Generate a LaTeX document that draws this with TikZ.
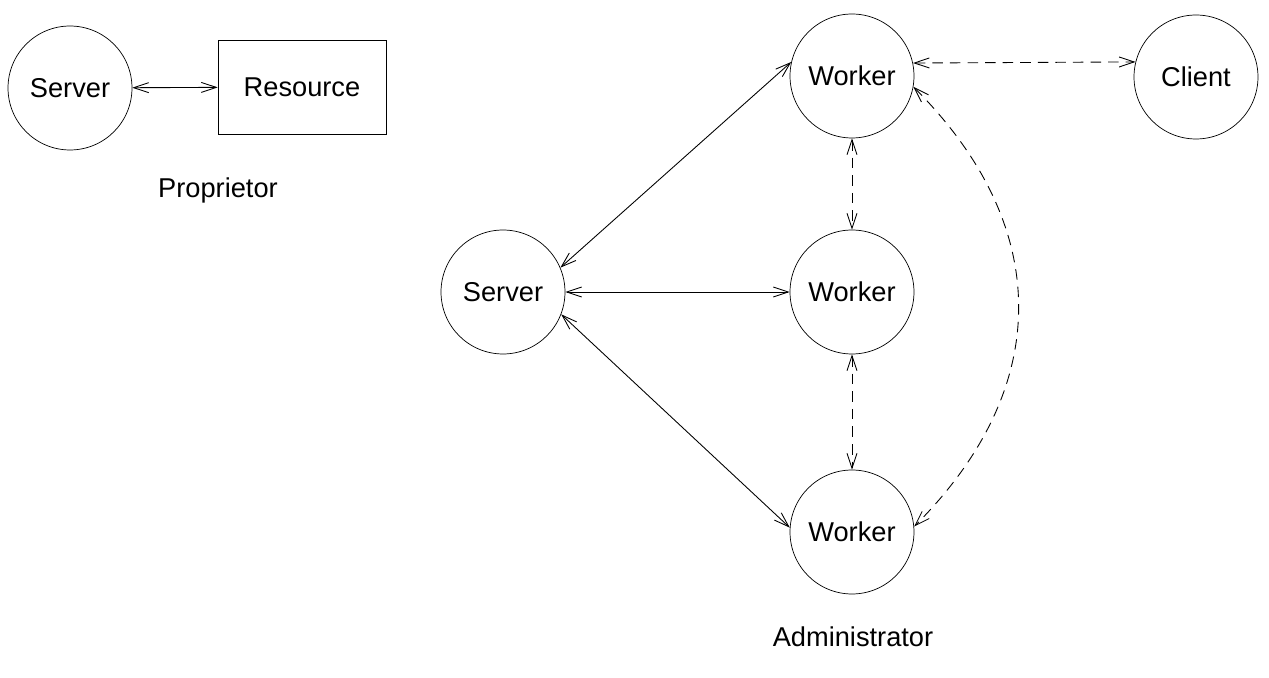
\documentclass[tikz,border=0pt]{standalone}
\usepackage{fontspec}
\setmainfont{Liberation Sans}
\usetikzlibrary{arrows.meta}
\begin{document}
\begin{tikzpicture}[x=0.02cm,y=-0.02cm,
		agent/.style={draw,circle,minimum size=2.48cm,inner sep=0pt,font=\fontsize{15.5}{18}\selectfont},
		link/.style={{Straight Barb[length=3mm,width=2mm]}-{Straight Barb[length=3mm,width=2mm]},line width=0.5pt},
		weak/.style={link,dashed,dash pattern=on 6pt off 4pt}]
			\useasboundingbox (0,0) rectangle (1269,678);
			% Proprietor
			\node[agent] (ps) at (70,88) {Server};
			\node[draw,minimum width=3.36cm,minimum height=1.88cm,font=\fontsize{15.5}{18}\selectfont] (res) at (302,87) {Resource};
			\node[font=\fontsize{15.5}{18}\selectfont] (prop) at (218,190) {Proprietor};
			\draw[link](ps)--(res);
			% Administrator
			\node[agent] (as) at (503,292) {Server};
			\node[agent] (w1) at (852,76) {Worker};
			\node[agent] (w2) at (852,292) {Worker};
			\node[agent] (w3) at (852,532) {Worker};
			\node[agent] (cl) at (1196,77) {Client};
			\node[font=\fontsize{15.5}{18}\selectfont] (adm) at (853,637) {Administrator};
			\draw[link](as.23)--(w1.167);
			\draw[link](as.0)--(w2.180);
			\draw[link](as.-21)--(w3.176);
			\draw[weak](w1.-90)--(w2.90);
			\draw[weak](w2.-90)--(w3.90);
			\draw[weak](w1.12)--(cl.166);
			\draw[weak](w1.-10) to[out=-45,in=45,looseness=1.15] (w3.5);
		\end{tikzpicture}
\end{document}
